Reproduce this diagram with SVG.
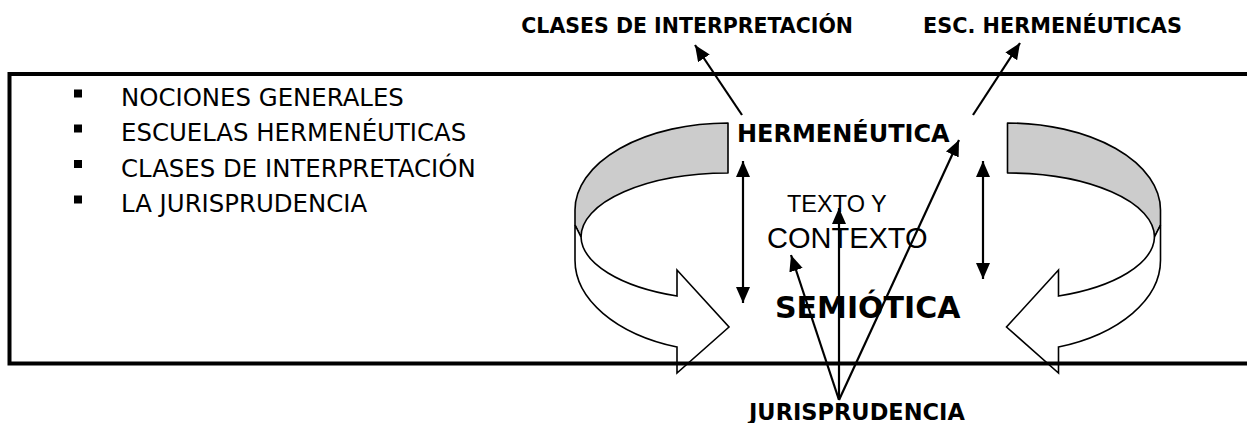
<svg xmlns="http://www.w3.org/2000/svg" width="1247" height="423" viewBox="0 0 1247 423">
<style>
.list{font-family:"DejaVu Sans",Verdana,sans-serif;font-size:24.4px;fill:#000}
.bold{font-family:"DejaVu Sans",Verdana,sans-serif;font-weight:bold;fill:#000}
.arial{font-family:"Liberation Sans",Arial,sans-serif;fill:#000}
.band{fill:#cccccc;stroke:#000;stroke-width:1.6;stroke-linejoin:round}
.front{fill:#fff;stroke:#000;stroke-width:1.6;stroke-linejoin:miter}
.conn{stroke:#000;stroke-width:2.2;fill:none}
.frame{stroke:#000;stroke-width:4;fill:none}
</style>
<defs>
<marker id="ah" viewBox="0 0 16 14" refX="16" refY="7" markerWidth="16" markerHeight="14" markerUnits="userSpaceOnUse" orient="auto-start-reverse">
<path d="M0,0 L16,7 L0,14 Z" fill="#000"/>
</marker>
</defs>
<g id="left-curved-arrow">
<path class="band" d="M728,123 A153,87 0 0 0 575,210 L575,225 L581,237 A147,64 0 0 1 728,173 Z"/>
<path class="front" d="M575,225 L575,260 A153,92 0 0 0 677,347 L677,373 L729,327 L677,270 L677,296 A147,64 0 0 1 581,237 Z"/>
</g>
<g id="right-curved-arrow">
<path class="band" d="M1007.5,123 A153,87 0 0 1 1160.5,210 L1160.5,225 L1154.5,237 A147,64 0 0 0 1007.5,173 Z"/>
<path class="front" d="M1160.5,225 L1160.5,260 A153,92 0 0 1 1058.5,347 L1058.5,373 L1006.5,327 L1058.5,270 L1058.5,296 A147,64 0 0 0 1154.5,237 Z"/>
</g>
<g id="frame">
<path class="frame" d="M1247,74 H9.5 V363.5 H1247"/>
</g>
<g id="list">
<rect x="74" y="89.5" width="8" height="8" fill="#000"/>
<text class="list" x="121" y="106">NOCIONES GENERALES</text>
<rect x="74" y="124.5" width="8" height="8" fill="#000"/>
<text class="list" x="121" y="141">ESCUELAS HERMENÉUTICAS</text>
<rect x="74" y="160" width="8" height="8" fill="#000"/>
<text class="list" x="121" y="176.5">CLASES DE INTERPRETACIÓN</text>
<rect x="74" y="195.5" width="8" height="8" fill="#000"/>
<text class="list" x="121" y="212">LA JURISPRUDENCIA</text>
</g>
<g id="clases">
<text class="bold" x="853" y="33" font-size="20.5" text-anchor="end">CLASES DE INTERPRETACIÓN</text>
</g>
<g id="escuelas">
<text class="bold" x="923" y="33" font-size="20.8">ESC. HERMENÉUTICAS</text>
</g>
<g id="hermeneutica">
<text class="bold" x="737" y="142" font-size="24">HERMENÉUTICA</text>
</g>
<g id="texto">
<text class="arial" x="787" y="211.7" font-size="23.5">TEXTO Y</text>
<text class="arial" x="767" y="248" font-size="29">CONTEXTO</text>
</g>
<g id="semiotica">
<text class="bold" x="775" y="317.5" font-size="30">SEMIÓTICA</text>
</g>
<g id="jurisprudencia">
<text class="bold" x="749" y="420" font-size="22.5">JURISPRUDENCIA</text>
</g>
<g id="connectors">
<line class="conn" x1="742" y1="115" x2="695" y2="45" marker-end="url(#ah)"/>
<line class="conn" x1="973" y1="115" x2="1020" y2="43" marker-end="url(#ah)"/>
<line class="conn" x1="743" y1="161" x2="743" y2="303" marker-start="url(#ah)" marker-end="url(#ah)"/>
<line class="conn" x1="983" y1="161" x2="983" y2="279" marker-start="url(#ah)" marker-end="url(#ah)"/>
<line class="conn" x1="839" y1="400" x2="791" y2="255" marker-end="url(#ah)"/>
<line class="conn" x1="839" y1="400" x2="839" y2="208" marker-end="url(#ah)"/>
<line class="conn" x1="839" y1="400" x2="959" y2="140" marker-end="url(#ah)"/>
</g>
</svg>
